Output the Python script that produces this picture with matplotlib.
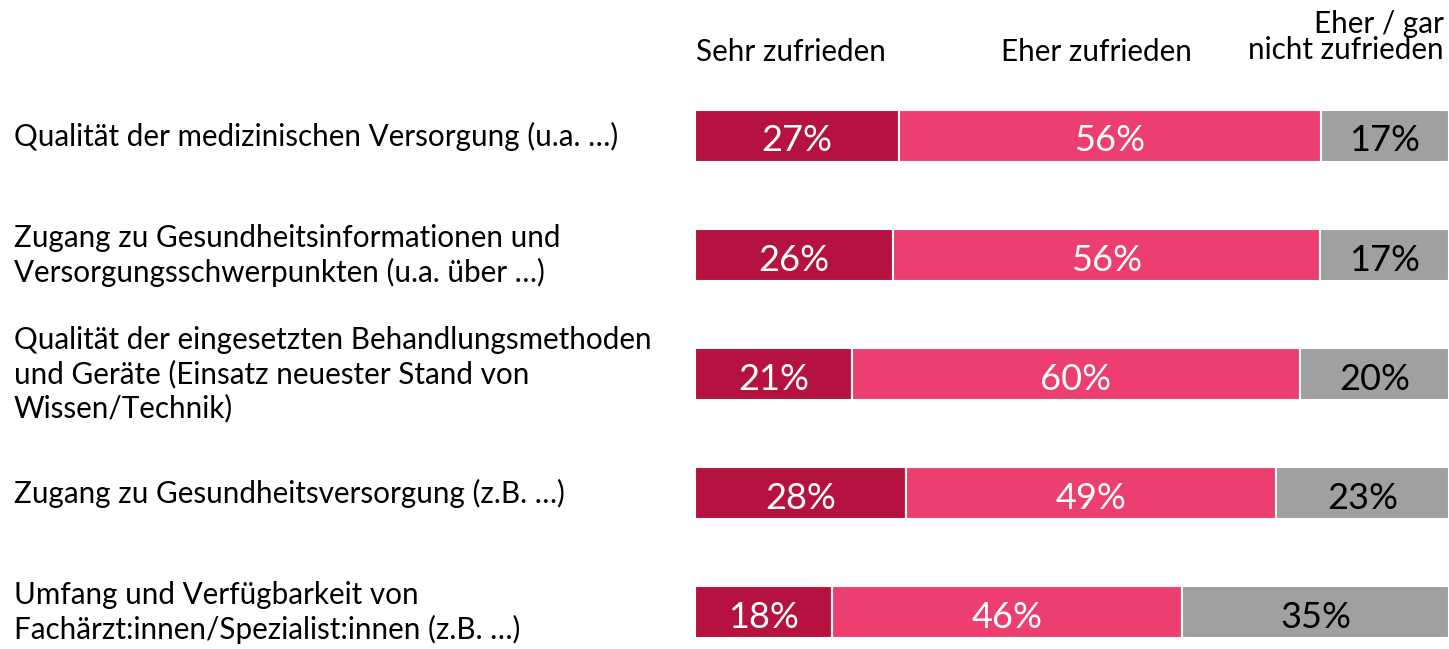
import matplotlib
matplotlib.use("Agg")
import matplotlib.pyplot as plt
import numpy as np

categories = [
    "Qualität der medizinischen Versorgung (u.a. …)",
    "Zugang zu Gesundheitsinformationen und\nVersorgungsschwerpunkten (u.a. über …)",
    "Qualität der eingesetzten Behandlungsmethoden\nund Geräte (Einsatz neuester Stand von\nWissen/Technik)",
    "Zugang zu Gesundheitsversorgung (z.B. …)",
    "Umfang und Verfügbarkeit von\nFachärzt:innen/Spezialist:innen (z.B. …)",
]
series_names = ["Sehr zufrieden", "Eher zufrieden", "Eher / gar\nnicht zufrieden"]
sehr = [27, 26, 21, 28, 18]
eher = [56, 56, 60, 49, 46]
nicht = [17, 17, 20, 23, 35]

colors = ["#B5123F", "#EC3F6F", "#A0A0A0"]
text_colors = ["white", "white", "black"]

plt.rcParams["font.family"] = ["Lato", "DejaVu Sans"]

W, H = 1449, 649
fig = plt.figure(figsize=(W / 100, H / 100), dpi=100)
ax = fig.add_axes([695 / W, 0, 754 / W, 1])

data = np.array([sehr, eher, nicht], dtype=float)
totals = data.sum(axis=0)
shares = data / totals * 100

y = np.arange(len(categories))
left = np.zeros(len(categories))
for k in range(3):
    ax.barh(y, shares[k], left=left, height=0.437, color=colors[k],
            edgecolor="white", linewidth=1.5)
    for i in range(len(categories)):
        ax.text(left[i] + shares[k][i] / 2, y[i] + 0.045, f"{int(data[k][i])}%",
                ha="center", va="center", color=text_colors[k], fontsize=26)
    left += shares[k]

ax.set_xlim(0, 100)
ax.set_ylim(4.311, -1.138)
ax.axis("off")

for i, cat in enumerate(categories):
    yc = 1 - (136 + 119.1 * i) / H
    fig.text(14 / W, yc, cat, ha="left", va="center", fontsize=21.3,
             linespacing=1.24, color="black")

fig.text(791 / W, 1 - 52 / H, series_names[0], ha="center", va="center", fontsize=21.3)
fig.text(1096 / W, 1 - 52 / H, series_names[1], ha="center", va="center", fontsize=21.3)
fig.text(1444 / W, 1 - 37 / H, series_names[2], ha="right", va="center", fontsize=21.3,
         multialignment="right", linespacing=0.95)

fig.savefig("out.png", dpi=100)
